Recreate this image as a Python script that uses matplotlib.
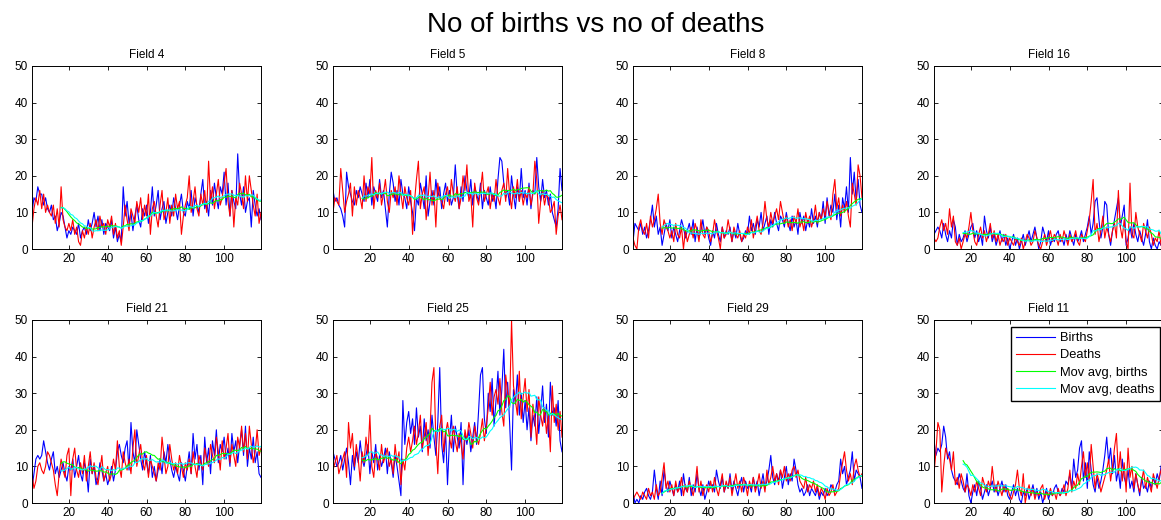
import numpy as np
import matplotlib
matplotlib.use("Agg")
import matplotlib.pyplot as plt

plt.rcParams["font.family"] = ["Liberation Sans", "DejaVu Sans"]

FIELDS = ["Field 4", "Field 5", "Field 8", "Field 16",
          "Field 21", "Field 25", "Field 29", "Field 11"]

# monthly counts (x = 1..119)
births_4 = [10, 14, 13, 17, 15, 15, 12, 14, 11, 10, 12, 8, 9, 5, 7, 10, 9, 6, 3, 5,
            4, 6, 5, 4, 7, 3, 5, 6, 4, 8, 5, 7, 10, 6, 9, 5, 8, 4, 7, 6,
            5, 8, 3, 6, 2, 4, 2, 17, 9, 13, 7, 10, 5, 9, 12, 8, 6, 11, 9, 12,
            7, 10, 17, 9, 12, 16, 8, 11, 13, 7, 10, 12, 9, 14, 11, 8, 12, 15, 10, 9,
            13, 11, 16, 9, 14, 12, 10, 15, 19, 11, 13, 9, 16, 12, 18, 14, 11, 17, 15, 21,
            12, 18, 9, 16, 13, 11, 26, 15, 12, 17, 10, 13, 14, 6, 16, 12, 9, 11, 8]
deaths_4 = [6, 11, 14, 12, 16, 11, 15, 10, 12, 10, 9, 12, 7, 11, 6, 17, 8, 6, 5, 7,
            5, 8, 4, 6, 2, 1, 5, 3, 6, 4, 7, 3, 6, 8, 5, 9, 6, 7, 4, 8,
            6, 9, 4, 7, 3, 5, 1, 6, 12, 8, 5, 11, 9, 7, 13, 10, 14, 8, 12, 9,
            15, 4, 11, 13, 9, 6, 12, 16, 8, 10, 14, 7, 12, 9, 15, 11, 13, 4, 9, 12,
            14, 20, 10, 13, 17, 11, 9, 15, 12, 16, 10, 24, 13, 17, 11, 15, 19, 12, 14, 18,
            22, 13, 9, 16, 6, 14, 12, 18, 15, 11, 20, 13, 20, 16, 12, 9, 15, 7, 10]

births_5 = [16, 13, 14, 12, 11, 9, 6, 21, 17, 15, 13, 12, 16, 14, 17, 15, 13, 18, 14, 19,
            12, 17, 15, 13, 19, 14, 16, 11, 6, 15, 21, 18, 13, 16, 12, 19, 15, 14, 11, 17,
            13, 10, 5, 14, 12, 18, 15, 11, 20, 9, 13, 16, 12, 19, 14, 17, 11, 15, 18, 13,
            16, 12, 14, 23, 15, 11, 17, 13, 20, 16, 14, 19, 12, 17, 15, 13, 18, 11, 16, 14,
            12, 17, 13, 15, 11, 19, 25, 24, 18, 14, 16, 12, 20, 15, 11, 17, 13, 22, 14, 16,
            12, 18, 11, 16, 15, 25, 17, 13, 19, 14, 16, 12, 15, 10, 8, 6, 11, 22, 16]
deaths_5 = [10, 14, 13, 12, 22, 16, 10, 13, 15, 18, 9, 17, 12, 16, 14, 11, 20, 13, 17, 15,
            25, 11, 16, 14, 18, 12, 15, 19, 13, 10, 16, 14, 17, 12, 20, 15, 11, 17, 14, 12,
            16, 4, 13, 19, 24, 11, 15, 17, 8, 14, 21, 12, 16, 6, 18, 14, 13, 11, 15, 17,
            12, 19, 15, 13, 17, 11, 14, 20, 16, 23, 13, 15, 6, 18, 14, 12, 16, 21, 13, 15,
            17, 11, 15, 13, 19, 14, 12, 16, 18, 13, 22, 15, 11, 17, 14, 19, 13, 16, 12, 15,
            14, 17, 12, 15, 24, 19, 7, 13, 16, 12, 15, 14, 10, 11, 13, 4, 9, 12, 8]

births_8 = [2, 7, 6, 5, 7, 4, 6, 3, 5, 8, 12, 6, 9, 4, 6, 1, 4, 7, 5, 8,
            3, 6, 4, 2, 5, 8, 6, 3, 5, 7, 4, 8, 2, 6, 3, 5, 8, 4, 6, 3,
            1, 5, 3, 7, 4, 2, 6, 3, 5, 4, 6, 2, 5, 3, 7, 4, 2, 3, 5, 4,
            9, 5, 7, 4, 8, 6, 10, 5, 7, 9, 4, 8, 6, 10, 7, 5, 9, 8, 6, 10,
            7, 5, 9, 6, 8, 4, 10, 7, 9, 5, 8, 6, 11, 7, 9, 6, 10, 8, 13, 7,
            14, 9, 12, 10, 15, 8, 12, 6, 14, 11, 17, 10, 25, 15, 21, 13, 19, 12, 10]
deaths_8 = [3, 1, 0, 6, 8, 5, 4, 7, 3, 9, 6, 8, 11, 15, 7, 4, 8, 6, 5, 3,
            5, 2, 7, 4, 3, 6, 0, 5, 2, 4, 6, 3, 7, 5, 2, 8, 4, 3, 6, 5,
            2, 4, 8, 5, 3, 0, 6, 3, 4, 8, 5, 2, 6, 4, 3, 5, 2, 4, 3, 6,
            4, 8, 3, 6, 9, 5, 4, 7, 13, 8, 6, 10, 7, 9, 11, 8, 13, 10, 7, 9,
            6, 8, 5, 9, 7, 11, 6, 8, 5, 10, 7, 9, 6, 8, 12, 7, 10, 8, 11, 9,
            13, 10, 8, 15, 19, 11, 14, 9, 12, 10, 13, 9, 6, 18, 15, 12, 23, 20, 14]

births_16 = [4, 5, 6, 5, 3, 7, 4, 2, 5, 3, 8, 6, 1, 4, 2, 3, 5, 2, 4, 6,
             7, 3, 5, 2, 4, 1, 9, 5, 3, 6, 2, 4, 1, 3, 5, 2, 4, 1, 3, 0,
             2, 4, 1, 3, 0, 2, 4, 1, 3, 5, 2, 4, 6, 3, 0, 2, 6, 4, 2, 5,
             1, 3, 2, 4, 5, 2, 3, 1, 4, 2, 5, 3, 1, 4, 2, 3, 5, 2, 4, 6,
             9, 4, 7, 13, 14, 8, 3, 6, 13, 12, 4, 1, 5, 8, 11, 14, 6, 9, 12, 1,
             3, 6, 3, 7, 4, 2, 5, 3, 1, 4, 8, 2, 0, 3, 1, 0, 2, 1, 4]
deaths_16 = [3, 2, 3, 6, 8, 5, 7, 4, 11, 6, 9, 2, 1, 3, 0, 2, 4, 3, 6, 10,
             5, 2, 1, 4, 6, 3, 5, 2, 4, 7, 3, 5, 2, 4, 1, 3, 2, 4, 1, 3,
             2, 1, 3, 2, 1, 3, 0, 2, 4, 3, 1, 2, 5, 3, 1, 0, 2, 4, 1, 3,
             5, 2, 4, 3, 1, 4, 2, 5, 3, 1, 4, 2, 3, 5, 2, 1, 4, 3, 2, 5,
             8, 13, 19, 4, 7, 2, 5, 9, 3, 6, 4, 2, 5, 7, 3, 16, 6, 3, 8, 2,
             0, 18, 4, 3, 10, 6, 4, 2, 7, 5, 3, 6, 4, 1, 3, 2, 5, 1, 3]

births_21 = [4, 8, 12, 13, 12, 13, 17, 14, 11, 9, 12, 14, 8, 10, 7, 9, 11, 8, 6, 10,
             9, 12, 7, 10, 13, 8, 6, 11, 9, 3, 12, 8, 10, 5, 7, 11, 9, 6, 8, 5,
             7, 10, 6, 9, 14, 16, 13, 11, 15, 17, 9, 22, 14, 11, 20, 16, 12, 9, 14, 11,
             8, 13, 7, 10, 6, 9, 12, 8, 14, 11, 16, 12, 9, 7, 10, 8, 6, 11, 9, 6,
             10, 14, 8, 19, 12, 16, 9, 13, 5, 18, 11, 15, 8, 17, 13, 20, 11, 16, 14, 18,
             12, 15, 10, 19, 14, 17, 11, 16, 20, 13, 21, 10, 15, 12, 18, 11, 14, 8, 7]
deaths_21 = [8, 4, 6, 10, 11, 9, 8, 10, 14, 13, 11, 9, 5, 2, 8, 12, 9, 7, 13, 15,
             2, 12, 15, 9, 7, 11, 8, 13, 6, 10, 14, 8, 11, 7, 5, 9, 13, 6, 8, 10,
             6, 8, 12, 9, 17, 10, 7, 14, 11, 9, 12, 8, 15, 20, 10, 13, 16, 11, 9, 13,
             7, 12, 10, 8, 6, 11, 9, 18, 13, 8, 10, 16, 12, 9, 11, 8, 13, 10, 7, 11,
             9, 12, 8, 14, 10, 7, 13, 11, 9, 15, 12, 10, 16, 13, 11, 18, 14, 9, 17, 12,
             15, 19, 11, 16, 13, 10, 18, 15, 21, 14, 19, 12, 21, 16, 11, 14, 20, 13, 15]

births_25 = [14, 12, 10, 11, 13, 9, 12, 15, 11, 5, 13, 9, 14, 11, 17, 12, 10, 13, 16, 8,
             14, 11, 16, 9, 13, 10, 12, 15, 8, 14, 11, 7, 13, 10, 6, 2, 28, 16, 22, 25,
             19, 23, 16, 26, 18, 21, 14, 23, 17, 20, 15, 24, 18, 13, 22, 37, 16, 11, 20, 5,
             17, 24, 14, 21, 18, 15, 22, 5, 19, 16, 20, 14, 18, 22, 16, 25, 35, 37, 23, 19,
             30, 25, 34, 21, 28, 36, 24, 31, 42, 26, 33, 22, 9, 31, 27, 35, 24, 30, 22, 28,
             20, 26, 17, 24, 21, 29, 19, 25, 32, 22, 27, 18, 33, 24, 26, 21, 28, 17, 14]
deaths_25 = [9, 11, 13, 8, 10, 12, 14, 7, 22, 15, 19, 10, 16, 12, 6, 14, 11, 18, 13, 24,
             10, 7, 14, 12, 9, 16, 11, 13, 15, 10, 12, 8, 16, 11, 14, 5, 12, 9, 15, 18,
             14, 17, 21, 16, 19, 24, 15, 18, 22, 13, 20, 33, 37, 17, 8, 21, 24, 14, 19, 22,
             18, 15, 21, 17, 14, 19, 16, 12, 20, 17, 22, 19, 15, 21, 18, 16, 19, 23, 17, 21,
             26, 33, 24, 29, 31, 27, 34, 25, 21, 35, 30, 26, 50, 32, 28, 24, 36, 23, 29, 34,
             25, 31, 18, 27, 23, 16, 29, 24, 21, 26, 19, 24, 14, 32, 22, 27, 20, 25, 18]

births_29 = [3, 0, 1, 0, 2, 1, 3, 4, 2, 1, 3, 9, 4, 1, 6, 2, 9, 5, 3, 6,
             4, 2, 5, 3, 6, 2, 8, 4, 3, 7, 2, 5, 3, 8, 4, 2, 5, 1, 3, 6,
             4, 5, 3, 9, 6, 4, 7, 3, 5, 4, 8, 3, 6, 4, 2, 5, 7, 3, 6, 4,
             5, 3, 7, 4, 6, 2, 5, 8, 4, 6, 9, 13, 7, 5, 8, 6, 9, 4, 7, 10,
             5, 8, 6, 12, 9, 5, 3, 4, 2, 3, 5, 2, 4, 3, 2, 4, 1, 3, 2, 4,
             2, 3, 5, 4, 3, 5, 6, 12, 8, 10, 5, 7, 9, 14, 6, 9, 8, 7, 4]
deaths_29 = [1, 2, 3, 2, 1, 3, 2, 1, 4, 2, 3, 1, 5, 2, 3, 7, 11, 4, 6, 3,
             5, 2, 6, 3, 4, 7, 2, 5, 3, 6, 4, 2, 5, 10, 3, 6, 2, 4, 5, 3,
             6, 3, 7, 4, 2, 5, 8, 3, 6, 4, 7, 2, 5, 8, 4, 6, 3, 7, 5, 2,
             6, 4, 7, 3, 5, 8, 4, 6, 3, 9, 5, 7, 10, 6, 8, 5, 9, 7, 10, 6,
             8, 6, 9, 10, 7, 9, 6, 5, 4, 7, 3, 5, 4, 6, 3, 5, 2, 4, 3, 1,
             4, 2, 3, 5, 2, 3, 4, 8, 11, 14, 9, 6, 8, 5, 10, 12, 9, 7, 8]

births_11 = [17, 13, 15, 14, 16, 21, 18, 12, 14, 9, 7, 6, 5, 8, 6, 4, 3, 8, 2, 0,
             3, 5, 2, 6, 4, 1, 3, 5, 2, 4, 6, 3, 5, 2, 4, 6, 3, 5, 2, 1,
             3, 5, 2, 4, 1, 0, 3, 2, 4, 1, 3, 5, 2, 4, 1, 3, 0, 2, 4, 1,
             3, 2, 4, 5, 3, 2, 4, 3, 6, 5, 8, 4, 12, 7, 9, 15, 17, 6, 11, 4,
             14, 9, 5, 3, 7, 4, 6, 9, 13, 18, 11, 15, 8, 13, 6, 9, 4, 12, 7, 5,
             9, 4, 6, 3, 8, 5, 2, 7, 4, 5, 3, 6, 4, 7, 5, 8, 6, 10, 12]
deaths_11 = [8, 14, 22, 20, 3, 10, 15, 13, 12, 9, 14, 5, 7, 4, 8, 6, 3, 5, 4, 2,
             5, 3, 6, 4, 2, 7, 5, 3, 6, 4, 10, 5, 3, 6, 4, 2, 5, 3, 4, 2,
             1, 3, 5, 9, 4, 2, 8, 0, 3, 5, 2, 4, 1, 3, 2, 4, 5, 1, 3, 2,
             4, 2, 3, 1, 4, 2, 3, 5, 2, 4, 9, 3, 6, 4, 8, 5, 10, 14, 7, 11,
             6, 16, 10, 4, 8, 6, 3, 5, 7, 9, 12, 6, 10, 15, 19, 8, 14, 6, 11, 3,
             15, 7, 10, 4, 8, 5, 3, 6, 9, 4, 7, 5, 3, 8, 6, 4, 7, 9, 11]

BIRTHS = [births_4, births_5, births_8, births_16,
          births_21, births_25, births_29, births_11]
DEATHS = [deaths_4, deaths_5, deaths_8, deaths_16,
          deaths_21, deaths_25, deaths_29, deaths_11]

WINDOW = 16


def movavg(y, n=WINDOW):
    y = np.asarray(y, dtype=float)
    ma = np.convolve(y, np.ones(n) / n, mode="valid")
    x = np.arange(n, n + len(ma))
    return x, ma


W, H = 1161, 520
fig = plt.figure(figsize=(W / 100, H / 100), dpi=100)
fig.patch.set_facecolor("white")

col_left = [32, 333, 633, 934]
row_top = [66, 320]
ax_w, ax_h = 229, 183

for i, name in enumerate(FIELDS):
    r, c = divmod(i, 4)
    left = col_left[c] / W
    bottom = 1 - (row_top[r] + ax_h) / H
    ax = fig.add_axes([left, bottom, ax_w / W, ax_h / H])

    b = BIRTHS[i]
    d = DEATHS[i]
    ax.plot(np.arange(1, len(b) + 1), b, color=(0, 0, 1), lw=0.8, label="Births")
    ax.plot(np.arange(1, len(d) + 1), d, color=(1, 0, 0), lw=0.8, label="Deaths")
    xb, mb = movavg(b)
    xd, md = movavg(d)
    ax.plot(xb, mb, color=(0, 1, 0), lw=0.8, label="Mov avg, births")
    ax.plot(xd, md, color=(0, 1, 1), lw=0.8, label="Mov avg, deaths")

    ax.set_xlim(1, 119)
    ax.set_ylim(0, 50)
    ax.set_xticks([20, 40, 60, 80, 100])
    ax.set_yticks([0, 10, 20, 30, 40, 50])
    ax.tick_params(direction="in", top=True, right=True, length=3,
                   width=0.6, labelsize=8.5, pad=3)
    for s in ax.spines.values():
        s.set_linewidth(0.7)
    ax.set_title(name, fontsize=8.5, pad=6)

    if name == "Field 11":
        ax.legend(loc="upper right", bbox_to_anchor=(1160 / W, 1 - 327 / H),
                  bbox_transform=fig.transFigure, borderaxespad=0,
                  fontsize=9.3, fancybox=False, framealpha=1,
                  edgecolor="black", handlelength=3.0, handletextpad=0.4,
                  labelspacing=0.4, borderpad=0.4)

fig.text(596 / W, 1 - 25 / H, "No of births vs no of deaths",
         ha="center", va="center", fontsize=20)

fig.savefig("out.png", dpi=100)
